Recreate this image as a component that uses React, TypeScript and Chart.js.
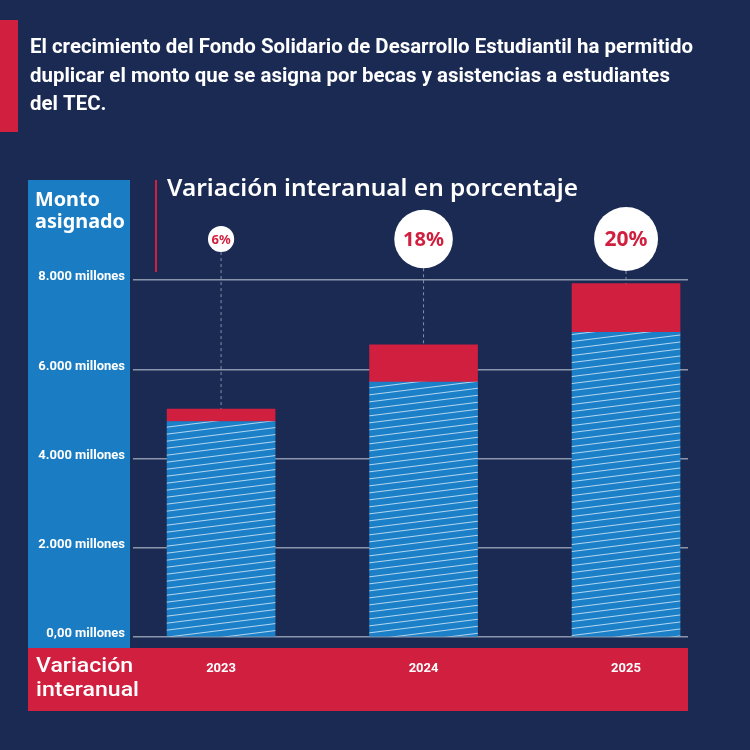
import React, { useEffect, useRef } from "react";
import { Chart, registerables } from "chart.js";

Chart.register(...registerables);

const years = ["2023", "2024", "2025"];
const baseAmounts = [4830, 5710, 6830];
const increaseAmounts = [280, 840, 1090];
const variationPct = [6, 18, 20];
const yTickValues = [0, 2000, 4000, 6000, 8000];
const yTickLabels = ["0,00 millones", "2.000 millones", "4.000 millones", "6.000 millones", "8.000 millones"];
const headline = [
  "El crecimiento del Fondo Solidario de Desarrollo Estudiantil ha permitido",
  "duplicar el monto que se asigna por becas y asistencias a estudiantes",
  "del TEC.",
];
const chartTitle = "Variación interanual en porcentaje";
const yAxisTitle = ["Monto", "asignado"];
const xAxisTitle = ["Variación", "interanual"];

const NAVY = "#1a2a53";
const BLUE = "#1a7cc2";
const RED = "#d11f3f";

function makeHatch(): CanvasPattern | string {
  const c = document.createElement("canvas");
  c.width = 56;
  c.height = 7;
  const g = c.getContext("2d");
  if (!g) return "#1c80c8";
  g.fillStyle = "#1c80c8";
  g.fillRect(0, 0, 56, 7);
  g.strokeStyle = "rgba(255,255,255,0.75)";
  g.lineWidth = 0.9;
  for (const k of [-1, 0, 1]) {
    g.beginPath();
    g.moveTo(0, 7 + k * 7);
    g.lineTo(56, k * 7);
    g.stroke();
  }
  return g.createPattern(c, "repeat") || "#1c80c8";
}

function drawScaled(ctx: CanvasRenderingContext2D, text: string, x: number, y: number, s: number) {
  ctx.save();
  ctx.translate(x, y);
  ctx.scale(s, 1);
  ctx.fillText(text, 0, 0);
  ctx.restore();
}

const decor = {
  id: "decor",
  beforeDraw(chart: any) {
    const ctx: CanvasRenderingContext2D = chart.ctx;
    ctx.save();
    ctx.fillStyle = NAVY;
    ctx.fillRect(0, 0, 750, 750);
    ctx.fillStyle = RED;
    ctx.fillRect(0, 20, 18, 112);

    // headline
    ctx.fillStyle = "#ffffff";
    ctx.textAlign = "left";
    ctx.textBaseline = "middle";
    ctx.font = "bold 20px Roboto";
    const s1 = 663 / ctx.measureText(headline[0]).width;
    headline.forEach((t, i) => drawScaled(ctx, t, 30, 48 + i * 28.5, s1));

    // side panels
    ctx.fillStyle = BLUE;
    ctx.fillRect(28, 180, 102, 468);
    ctx.fillStyle = RED;
    ctx.fillRect(28, 648, 660, 63);
    ctx.fillRect(155, 180, 2, 92);

    // chart title
    ctx.fillStyle = "#ffffff";
    ctx.font = "600 24px 'Noto Sans'";
    const s2 = 411 / ctx.measureText(chartTitle).width;
    drawScaled(ctx, chartTitle, 167, 189, s2);

    // y axis title
    ctx.font = "bold 20px 'Noto Sans'";
    ctx.textBaseline = "alphabetic";
    const s3 = 90 / ctx.measureText(yAxisTitle[1]).width;
    drawScaled(ctx, yAxisTitle[0], 35, 206, s3);
    drawScaled(ctx, yAxisTitle[1], 35, 228, s3);

    // x axis title
    ctx.font = "500 21px Roboto";
    ctx.textBaseline = "middle";
    const s4 = 103 / ctx.measureText(xAxisTitle[1]).width;
    drawScaled(ctx, xAxisTitle[0], 36, 667, s4);
    drawScaled(ctx, xAxisTitle[1], 36, 691, s4);
    ctx.restore();
  },
  afterDatasetsDraw(chart: any) {
    const ctx: CanvasRenderingContext2D = chart.ctx;
    const xs = chart.scales.x;
    const ys = chart.scales.y;
    years.forEach((yr, i) => {
      const x = xs.getPixelForValue(Number(yr));
      const top = ys.getPixelForValue(baseAmounts[i] + increaseAmounts[i]);
      const r = 5 + 1.35 * variationPct[i];
      const cy = 239;
      ctx.save();
      ctx.strokeStyle = "rgba(170,178,200,0.75)";
      ctx.setLineDash([3, 3]);
      ctx.lineWidth = 1;
      ctx.beginPath();
      ctx.moveTo(x, cy + r);
      ctx.lineTo(x, top);
      ctx.stroke();
      ctx.setLineDash([]);
      ctx.fillStyle = "#ffffff";
      ctx.beginPath();
      ctx.arc(x, cy, r, 0, Math.PI * 2);
      ctx.fill();
      ctx.fillStyle = RED;
      ctx.font = `bold ${Math.round(7 + 0.45 * r)}px 'Noto Sans'`;
      ctx.textAlign = "center";
      ctx.textBaseline = "middle";
      ctx.fillText(variationPct[i] + "%", x, cy + 1);
      ctx.restore();
    });
  },
};

export default function App() {
  const ref = useRef<HTMLCanvasElement | null>(null);
  useEffect(() => {
    if (!ref.current) return;
    const hatch = makeHatch();
    const chart = new Chart(ref.current, {
      type: "bar",
      data: {
        datasets: [
          {
            label: "Monto asignado",
            data: years.map((y, i) => ({ x: Number(y), y: baseAmounts[i] })) as any,
            backgroundColor: hatch as any,
            barThickness: 108,
          },
          {
            label: "Variación interanual",
            data: years.map((y, i) => ({ x: Number(y), y: increaseAmounts[i] })) as any,
            backgroundColor: RED,
            barThickness: 108,
          },
        ],
      },
      options: {
        responsive: false,
        animation: false,
        layout: { padding: { top: 280, right: 62, left: 0, bottom: 0 } },
        plugins: {
          legend: { display: false },
          tooltip: { enabled: false },
          title: { display: false },
        },
        scales: {
          x: {
            type: "linear",
            stacked: true,
            offset: false,
            bounds: "ticks",
            min: 2022.565,
            max: 2025.306,
            grid: { display: false },
            border: { display: false },
            afterBuildTicks: (s: any) => {
              s.ticks = years.map((y) => ({ value: Number(y) }));
            },
            afterFit: (s: any) => {
              s.height = 113;
            },
            ticks: {
              color: "#ffffff",
              font: { family: "Roboto", weight: "bold", size: 13 },
              padding: 16,
              callback: (v: any) => years.find((y) => Number(y) === Number(v)) || "",
            },
          },
          y: {
            stacked: true,
            min: 0,
            max: 8000,
            afterFit: (s: any) => {
              s.width = 133;
            },
            afterBuildTicks: (s: any) => {
              s.ticks = yTickValues.map((v) => ({ value: v }));
            },
            grid: { color: "rgba(190,196,210,0.7)", lineWidth: 1.5, drawTicks: false },
            border: { display: false },
            ticks: {
              color: "#ffffff",
              font: { family: "Roboto", weight: "bold", size: 13 },
              padding: 8,
              labelOffset: -3,
              callback: (v: any) => yTickLabels[yTickValues.indexOf(Number(v))] || "",
            },
          },
        },
      } as any,
      plugins: [decor],
    });
    return () => chart.destroy();
  }, []);
  return (
    <div style={{ position: "fixed", left: 0, top: 0, width: 750, height: 750, background: NAVY }}>
      <canvas ref={ref} width={750} height={750} style={{ display: "block" }} />
    </div>
  );
}
